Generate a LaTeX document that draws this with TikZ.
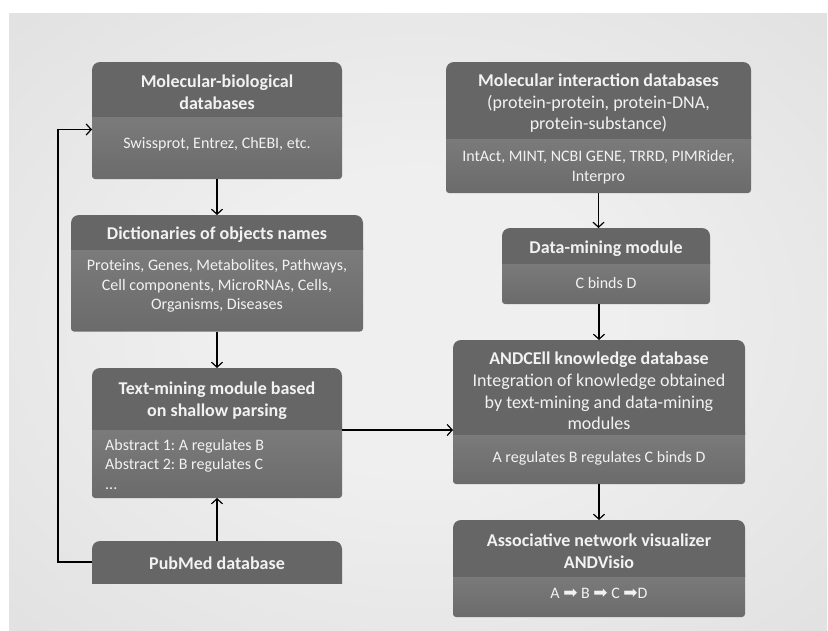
\documentclass[tikz,border=0pt]{standalone}
\usepackage{fontspec}
\setmainfont{Carlito}
\newfontfamily\symfont{DejaVu Sans}
\usetikzlibrary{arrows.meta}
\frenchspacing
\definecolor{titlecol}{HTML}{666666}
\definecolor{bodytop}{HTML}{7C7C7C}
\definecolor{bodybot}{HTML}{6B6B6B}
\definecolor{txtcol}{HTML}{F2F2F2}
\definecolor{bgin}{HTML}{EFEFEF}
\definecolor{bgout}{HTML}{CDCDCD}
\pgfdeclareradialshading{bgrad}{\pgfpoint{0bp}{0bp}}{color(0bp)=(bgin); color(12bp)=(bgin); color(71bp)=(bgout)}
\newcommand{\flowbox}[6]{%
  \shade[top color=bodytop, bottom color=bodybot, rounded corners=3pt] (#2,#5-5) rectangle (#3,#6);
  \begin{scope}
    \clip (#2-1,#4-1) rectangle (#3+1,#5);
    \fill[titlecol, rounded corners=8pt] (#2,#4) rectangle (#3,#5+10);
  \end{scope}
  \node[inner sep=0pt, outer sep=0pt, minimum width={(#3-#2)*1pt}, minimum height={(#6-#4)*1pt}] (#1) at ({(#2+#3)/2},{(#4+#6)/2}) {};
}
\newcommand{\fatarrow}{{\symfont\fontsize{17}{17}\selectfont ➡}}
\tikzset{
  arr/.style={draw=black, line width=1.2pt, -{Straight Barb[length=5pt,width=11pt]}},
  ttl/.style={text=txtcol, align=center, inner sep=0pt, font=\fontsize{18}{21.7}\selectfont\bfseries},
  ttlr/.style={text=txtcol, align=center, inner sep=0pt, font=\fontsize{18}{21.7}\selectfont},
  bdy/.style={text=txtcol, align=center, inner sep=0pt, font=\fontsize{16}{19.5}\selectfont},
}
\begin{document}
\begin{tikzpicture}[x=1pt,y=-1pt]
\useasboundingbox (0,0) rectangle (828,630);
\fill[white] (0,0) rectangle (828,630);
\shade[shading=bgrad] (9,13) rectangle (827,630);

\flowbox{b1}{92}{342}{62}{116.5}{179}
\flowbox{b2}{71}{363}{215}{249}{331.5}
\flowbox{b3}{92}{342}{368}{429}{498}
\flowbox{b4}{92}{342}{541}{583}{583}
\flowbox{b5}{446}{751}{62}{138}{193}
\flowbox{b6}{502}{710}{228}{263}{304}
\flowbox{b7}{453}{745}{340}{434}{484}
\flowbox{b8}{453}{745}{520}{576}{617}

\node[ttl] (t1) at (217,92.4) {Molecular-biological\\databases};
\node[bdy] (s1) at (217,144) {Swissprot, Entrez, ChEBI, etc.};
\node[ttl] (t2) at (217,235) {Dictionaries of objects names};
\node[bdy] (s2) at (217,286) {Proteins, Genes, Metabolites, Pathways,\\Cell components, MicroRNAs, Cells,\\Organisms, Diseases};
\node[ttl] (t3) at (217,401) {Text-mining module based\\on shallow parsing};
\node[bdy, align=left, anchor=west] (s3) at (105,464) {Abstract 1: A regulates B\\Abstract 2: B regulates C\\...};
\node[ttl] (t4) at (217,563) {PubMed database};
\node[ttlr] (t5) at (598.5,103.3) {\textbf{Molecular interaction databases}\\(protein-protein, protein-DNA,\\protein-substance)};
\node[bdy] (s5) at (598.5,167) {IntAct, MINT, NCBI GENE, TRRD, PIMRider,\\Interpro};
\node[ttl] (t6) at (606,248.3) {Data-mining module};
\node[bdy] (s6) at (606,282.7) {C binds D};
\node[ttlr] (t7) at (599,391) {\textbf{ANDCEll knowledge database}\\Integration of knowledge obtained\\by text-mining and data-mining\\modules};
\node[bdy] (s7) at (599,458.3) {A regulates B regulates C binds D};
\node[ttl] (t8) at (599,551) {Associative network visualizer\\ANDVisio};
\node[bdy] (s8) at (599,593.3) {A \fatarrow{} B \fatarrow{} C \fatarrow D};

\coordinate (fb) at (58,129.5);
\coordinate (hm) at (0,430);
\draw[arr] (b1) -- (b2);
\draw[arr] (b2) -- (b3);
\draw[arr] (b4) -- (b3);
\draw[arr] (b4.west) -| (fb) -- (b1.west |- fb);
\draw[arr] (b5) -- (b5 |- b6.north);
\draw[arr] (b7 |- b6.south) -- (b7);
\draw[arr] (b7) -- (b8);
\draw[arr] (b3.east |- hm) -- (b7.west |- hm);
\end{tikzpicture}
\end{document}
